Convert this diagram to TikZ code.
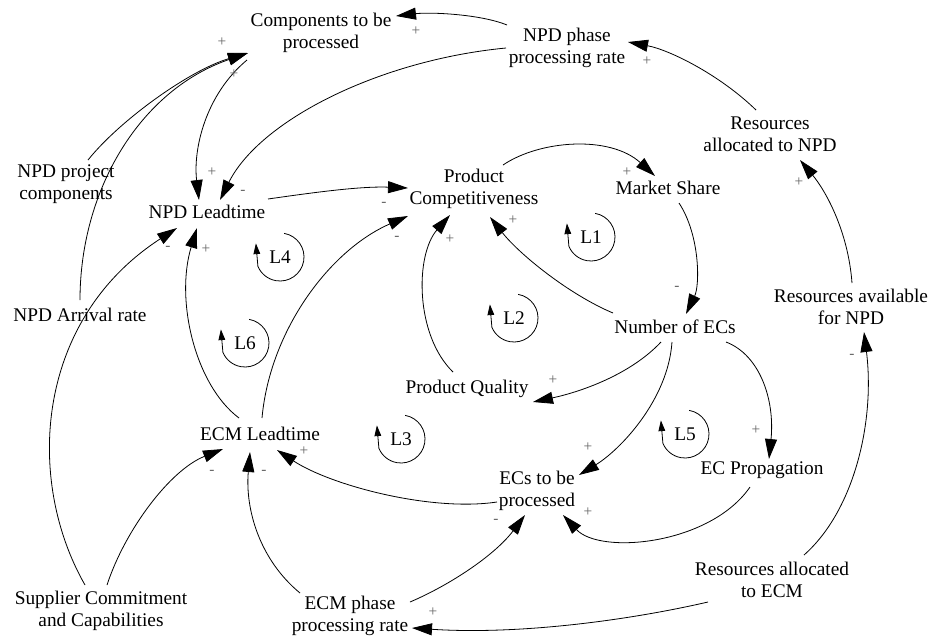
\documentclass[tikz,border=0pt]{standalone}
\usepackage{fontspec}
\setmainfont{Liberation Serif}
\usetikzlibrary{arrows.meta,calc}
\begin{document}
\begin{tikzpicture}[x=0.75pt,y=-0.75pt,
  lbl/.style={align=center, inner sep=0pt, font=\fontsize{14.5}{16.5}\selectfont},
  arr/.style={line width=0.6pt, -{Triangle[length=15pt,width=9pt]}},
  pol/.style={inner sep=0pt, font=\fontsize{11.5}{11.5}\selectfont, text=black!60},
  loopline/.style={line width=0.6pt, -{Triangle[length=8pt,width=5pt]}},
  looplbl/.style={inner sep=0pt, font=\fontsize{14.5}{16.5}\selectfont}]
\useasboundingbox (0,0) rectangle (932,637);

% ---------- variables ----------
\node[lbl] (cp)  at (321,33)  {Components to be\\processed};
\node[lbl] (npr) at (567,48)  {NPD phase\\processing rate};
\node[lbl] (ran) at (770,134) {Resources\\allocated to NPD};
\node[lbl] (npc) at (66,184)  {NPD project\\components};
\node[lbl] (nlt) at (207,212) {NPD Leadtime};
\node[lbl] (pc)  at (474,189) {Product\\Competitiveness};
\node[lbl] (ms)  at (668,188) {Market Share};
\node[lbl] (rav) at (851,307) {Resources available\\for NPD};
\node[lbl] (nec) at (675,327) {Number of ECs};
\node[lbl] (nar) at (80,315)  {NPD Arrival rate};
\node[lbl] (pq)  at (467,389) {Product Quality};
\node[lbl] (elt) at (260,434) {ECM Leadtime};
\node[lbl] (ecp) at (762,470) {EC Propagation};
\node[lbl] (etp) at (537,491) {ECs to be\\processed};
\node[lbl] (rae) at (772,580) {Resources allocated\\to ECM};
\node[lbl] (sc)  at (101,611) {Supplier Commitment\\and Capabilities};
\node[lbl] (epr) at (350,616) {ECM phase\\processing rate};

% ---------- connectors ----------
\draw[arr] ($(npr)+(-60,-23)$) .. controls (480,14) and (430,12) .. ($(cp)+(75,-17)$);
\draw[arr] ($(npc)+(22,-24)$) .. controls (120,120) and (190,70) .. ($(cp)+(-73,20)$);
\draw[arr] ($(nar)+(0,-15)$) .. controls (80,190) and (140,90) .. ($(cp)+(-73,20)$);
\draw[arr] ($(cp)+(-74,27)$) .. controls (205,95) and (193,150) .. ($(nlt)+(-8,-12)$);
\draw[arr] ($(npr)+(-61,0)$) .. controls (380,60) and (260,120) .. ($(nlt)+(13,-12)$);
\draw[arr] ($(nlt)+(61,-13)$) .. controls (310,193) and (360,186) .. ($(pc)+(-66,-1)$);
\draw[arr] ($(elt)+(2,-16)$) .. controls (270,330) and (330,250) .. ($(pc)+(-66,27)$);
\draw[arr] ($(pq)+(-14,-17)$) .. controls (415,335) and (415,255) .. ($(pc)+(-24,26)$);
\draw[arr] ($(nec)+(-62,-14)$) .. controls (570,295) and (520,255) .. ($(pc)+(16,28)$);
\draw[arr] ($(pc)+(29,-24)$) .. controls (540,140) and (610,135) .. ($(ms)+(-13,-12)$);
\draw[arr] ($(ms)+(11,15)$) .. controls (700,235) and (700,285) .. ($(nec)+(11,-13)$);
\draw[arr] ($(nec)+(-14,15)$) .. controls (630,375) and (580,392) .. ($(pq)+(66,13)$);
\draw[arr] ($(nec)+(-3,15)$) .. controls (668,400) and (620,450) .. ($(etp)+(42,-16)$);
\draw[arr] ($(nec)+(51,15)$) .. controls (760,355) and (775,400) .. ($(ecp)+(7,-11)$);
\draw[arr] ($(ecp)+(-12,17)$) .. controls (710,545) and (600,555) .. ($(etp)+(26,24)$);
\draw[arr] ($(etp)+(-40,11)$) .. controls (430,512) and (330,485) .. ($(elt)+(17,16)$);
\draw[arr] ($(epr)+(60,-14)$) .. controls (450,585) and (495,555) .. ($(etp)+(-12,24)$);
\draw[arr] ($(epr)+(-50,-23)$) .. controls (260,560) and (245,510) .. ($(elt)+(-10,18)$);
\draw[arr] ($(sc)+(6,-26)$) .. controls (125,530) and (170,470) .. ($(elt)+(-37,15)$);
\draw[arr] ($(sc)+(-16,-26)$) .. controls (25,480) and (35,320) .. ($(nlt)+(-30,16)$);
\draw[arr] ($(elt)+(-21,-16)$) .. controls (195,385) and (175,300) .. ($(nlt)+(-10,16)$);
\draw[arr] ($(ran)+(-14,-24)$) .. controls (720,75) and (670,50) .. ($(npr)+(61,-6)$);
\draw[arr] ($(rav)+(1,-24)$) .. controls (848,230) and (825,190) .. ($(ran)+(30,26)$);
\draw[arr] ($(rae)+(32,-25)$) .. controls (855,510) and (875,420) .. ($(rav)+(13,25)$);
\draw[arr] ($(rae)+(-64,22)$) .. controls (630,620) and (520,635) .. ($(epr)+(62,12)$);

% ---------- polarities ----------
\node[pol] (s1)  at (416,31)  {+};
\node[pol] (s2)  at (222,42)  {+};
\node[pol] (s3)  at (234,74)  {+};
\node[pol] (s4)  at (212,172) {+};
\node[pol] (s5)  at (243,192) {-};
\node[pol] (s6)  at (384,204) {-};
\node[pol] (s7)  at (397,238) {-};
\node[pol] (s8)  at (450,239) {+};
\node[pol] (s9)  at (513,220) {+};
\node[pol] (s10) at (627,172) {+};
\node[pol] (s11) at (677,288) {-};
\node[pol] (s12) at (553,380) {+};
\node[pol] (s13) at (588,447) {+};
\node[pol] (s14) at (756,430) {+};
\node[pol] (s15) at (588,512) {+};
\node[pol] (s16) at (304,451) {+};
\node[pol] (s17) at (496,521) {-};
\node[pol] (s18) at (264,472) {-};
\node[pol] (s19) at (212,472) {-};
\node[pol] (s20) at (168,248) {-};
\node[pol] (s21) at (206,249) {+};
\node[pol] (s22) at (647,61)  {+};
\node[pol] (s23) at (799,182) {+};
\node[pol] (s24) at (852,356) {-};
\node[pol] (s25) at (433,612) {+};

% ---------- loop markers ----------
\foreach \cx/\cy/\nm/\tx in {591/237/l1/L1, 514/318/l2/L2, 401/439/l3/L3, 280/257/l4/L4, 685/434/l5/L5, 245/343/l6/L6}{
  \draw[loopline] ($(\cx,\cy)+(80:18pt)$) arc[start angle=80, end angle=-157, radius=18pt] -- ++(-2,-23);
  \node[looplbl] (\nm) at (\cx,\cy) {\tx};
}
\end{tikzpicture}
\end{document}
